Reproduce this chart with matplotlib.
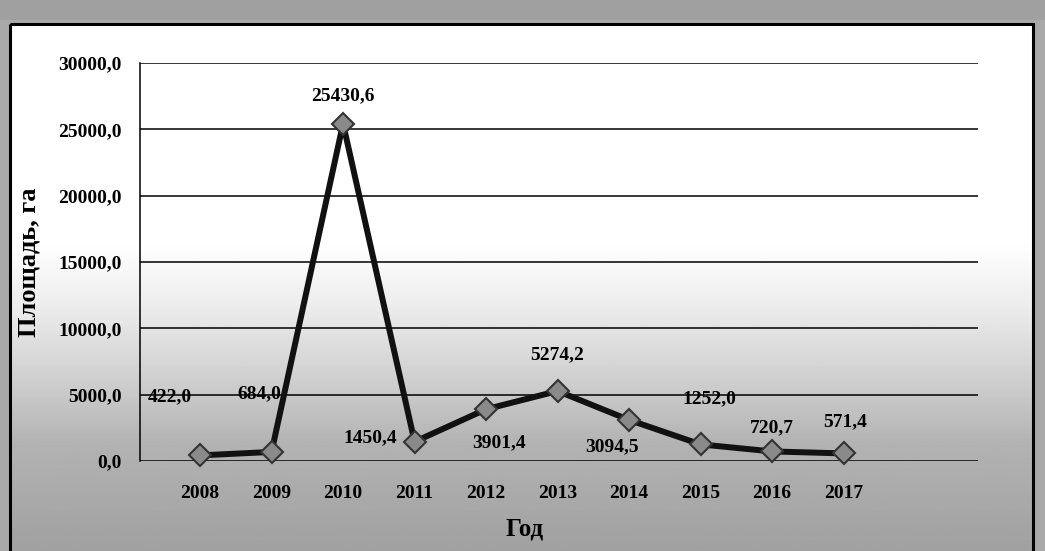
import numpy as np
import matplotlib
matplotlib.use("Agg")
import matplotlib.pyplot as plt
from matplotlib.patches import Rectangle

years = ["2008", "2009", "2010", "2011", "2012", "2013", "2014", "2015", "2016", "2017"]
area = [422.0, 684.0, 25430.6, 1450.4, 3901.4, 5274.2, 3094.5, 1252.0, 720.7, 571.4]
labels = ["422,0", "684,0", "25430,6", "1450,4", "3901,4", "5274,2", "3094,5", "1252,0", "720,7", "571,4"]
yticks = [0, 5000, 10000, 15000, 20000, 25000, 30000]
ytick_labels = ["0,0", "5000,0", "10000,0", "15000,0", "20000,0", "25000,0", "30000,0"]
# label offsets in points (dx, dy)
label_offsets = [(-22, 42), (-9, 42), (0, 20), (-32, 3), (9, -24), (0, 26), (-12, -19), (6, 33), (0, 17), (1, 23)]

W, H = 1045, 551
fig = plt.figure(figsize=(W / 100, H / 100), dpi=100)
fig.patch.set_facecolor("#a9a9a9")

# background gradient panel (chart area)
bg = fig.add_axes([0, 0, 1, 1], zorder=0)
bg.set_xlim(0, W)
bg.set_ylim(H, 0)
bg.axis("off")
ys = np.linspace(0, 1, 300)
tone = np.interp(ys * H, [0, 24, 230, 300, 380, 440, 551], [1.0, 1.0, 1.0, 0.92, 0.80, 0.70, 0.63])
grad = np.tile(tone[:, None], (1, 10))
bg.imshow(grad, extent=[10, 1033, H, 24], cmap="gray", vmin=0, vmax=1, aspect="auto", zorder=0)
bg.add_patch(Rectangle((0, 0), W, 20, facecolor="#a0a0a0", edgecolor="none", zorder=1))
bg.add_patch(Rectangle((10, 24), 1023, 540, facecolor="none", edgecolor="black", lw=2.2, zorder=2))

ax = fig.add_axes([140 / W, 90 / H, 838 / W, 398 / H], zorder=1)
ax.patch.set_alpha(0)
x = np.arange(len(years))
ax.set_xlim(-0.84, 10.88)
ax.set_ylim(0, 30000)

ax.set_yticks(yticks)
ax.set_yticklabels(ytick_labels)
ax.set_xticks(x)
ax.set_xticklabels(years)
ax.grid(axis="y", color="black", lw=1.1)
ax.set_axisbelow(True)
for s in ["top", "right", "bottom"]:
    ax.spines[s].set_visible(False)
ax.spines["left"].set_color("black")
ax.spines["left"].set_linewidth(1.1)
ax.tick_params(axis="both", length=0)
ax.tick_params(axis="y", pad=13)
ax.tick_params(axis="x", pad=17)

font = dict(family="Liberation Serif", weight="bold", size=14)
for t in ax.get_xticklabels() + ax.get_yticklabels():
    t.set_fontfamily("Liberation Serif")
    t.set_fontweight("bold")
    t.set_fontsize(14)

ax.plot(x, area, color="#111111", lw=4.3, marker="D", markersize=11,
        markerfacecolor="#8a8a8a", markeredgecolor="#333333", markeredgewidth=1.5,
        solid_joinstyle="round", clip_on=False, zorder=3)

for xi, yi, lab, (dx, dy) in zip(x, area, labels, label_offsets):
    ax.annotate(lab, (xi, yi), xytext=(dx, dy), textcoords="offset points",
                ha="center", va="center", **font)

ax.set_ylabel("Площадь, га", family="Liberation Serif", weight="bold", size=19)
ax.yaxis.set_label_coords(-100 / 838, 0.5)
ax.set_xlabel("Год", family="Liberation Serif", weight="bold", size=18)
ax.xaxis.set_label_coords((525 - 140) / 838, -57 / 398)

fig.savefig("out.png", dpi=100, facecolor=fig.get_facecolor())
